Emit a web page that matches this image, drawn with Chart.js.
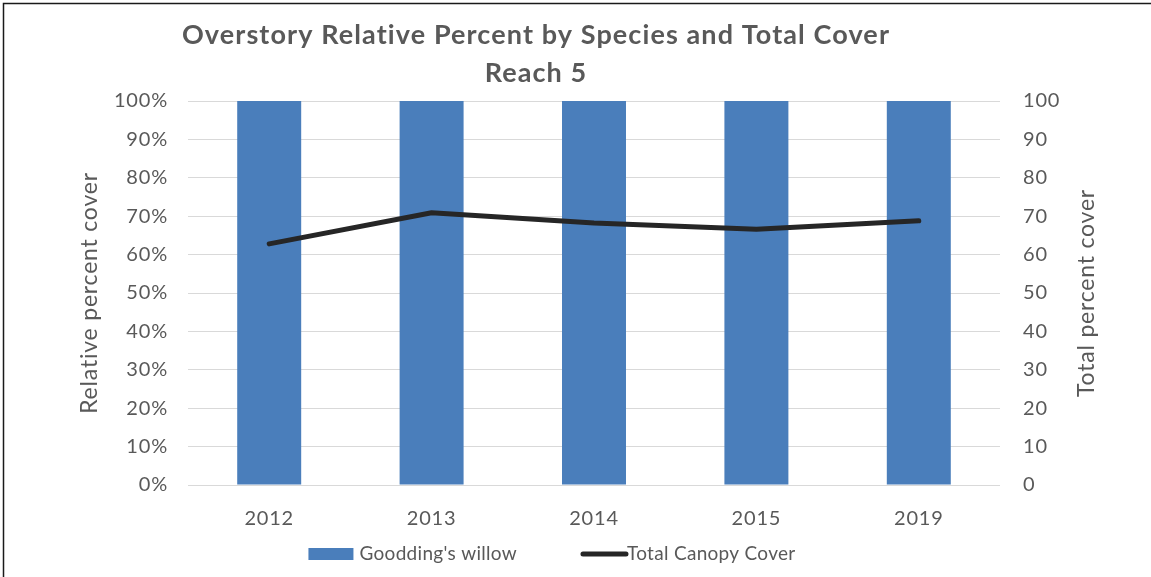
<!DOCTYPE html>
<html>
<head>
<meta charset="utf-8">
<script src="https://cdn.jsdelivr.net/npm/chart.js@4.4.0/dist/chart.umd.min.js"></script>
<style>
html, body { margin: 0; padding: 0; background: #fff; }
#wrap { width: 1151px; height: 577px; }
</style>
</head>
<body>
<div id="wrap"><canvas id="chart" width="1151" height="577"></canvas></div>
<script>
// data
const years = ['2012', '2013', '2014', '2015', '2019'];
const willowShare = [1, 1, 1, 1, 1];            // relative percent (fraction)
const canopyCover = [62.8, 70.9, 68.2, 66.6, 68.8]; // total percent cover
const seriesNames = ["Goodding's willow", 'Total Canopy Cover'];
const titleLines = ['Overstory Relative Percent by Species and Total Cover', 'Reach 5'];
const leftTitle = 'Relative percent cover';
const rightTitle = 'Total percent cover';

const textColor = '#595959';
const barColor = '#4a7ebb';
const lineColor = '#262626';
const fontFam = 'Lato, "Open Sans", sans-serif';

Chart.defaults.font.family = fontFam;
Chart.defaults.color = textColor;

// title, axis titles, legend and frame drawn on the canvas
const decor = {
    id: 'decor',
    beforeDraw(chart) {
        const ctx = chart.ctx;
        ctx.save();
        ctx.fillStyle = '#fff';
        ctx.fillRect(0, 0, chart.width, chart.height);
        ctx.strokeStyle = '#1a1a1a';
        ctx.lineWidth = 1.5;
        ctx.beginPath();
        ctx.moveTo(3.5, chart.height);
        ctx.lineTo(3.5, 3.5);
        ctx.lineTo(chart.width, 3.5);
        ctx.stroke();
        ctx.restore();
        // the original text is set a bit looser than Lato
        ctx.letterSpacing = '0.8px';
    },
    afterDraw(chart) {
        const ctx = chart.ctx;
        const area = chart.chartArea;
        const midY = (area.top + area.bottom) / 2;
        ctx.save();
        ctx.fillStyle = textColor;

        // chart title
        ctx.textAlign = 'center';
        ctx.textBaseline = 'alphabetic';
        ctx.font = 'bold 27px ' + fontFam;
        ctx.letterSpacing = '1.1px';
        titleLines.forEach((t, i) => ctx.fillText(t, 536, 44 + i * 38));

        // axis titles (both read bottom-to-top)
        ctx.font = '23px ' + fontFam;
        ctx.letterSpacing = '0.8px';
        ctx.textBaseline = 'middle';
        [[leftTitle, 90], [rightTitle, 1087]].forEach(([t, x]) => {
            ctx.save();
            ctx.translate(x, midY);
            ctx.rotate(-Math.PI / 2);
            ctx.fillText(t, 0, 0);
            ctx.restore();
        });

        // legend
        ctx.font = '19px ' + fontFam;
        ctx.letterSpacing = '0.3px';
        ctx.textAlign = 'left';
        const ly = 554;
        const boxW = 45;
        const w1 = boxW + 6 + ctx.measureText(seriesNames[0]).width;
        const w2 = boxW + 1 + ctx.measureText(seriesNames[1]).width;
        let x = 552 - (w1 + 64 + w2) / 2;
        ctx.fillStyle = barColor;
        ctx.fillRect(x, ly - 6, boxW, 12);
        ctx.fillStyle = textColor;
        ctx.fillText(seriesNames[0], x + boxW + 6, ly);
        x += w1 + 64;
        ctx.strokeStyle = lineColor;
        ctx.lineWidth = 5;
        ctx.lineCap = 'round';
        ctx.beginPath();
        ctx.moveTo(x + 2, ly);
        ctx.lineTo(x + boxW, ly);
        ctx.stroke();
        ctx.fillText(seriesNames[1], x + boxW + 1, ly);
        ctx.restore();
    }
};

new Chart(document.getElementById('chart'), {
    data: {
        labels: years,
        datasets: [
            {
                type: 'line',
                label: seriesNames[1],
                data: canopyCover,
                yAxisID: 'y1',
                borderColor: lineColor,
                backgroundColor: lineColor,
                borderWidth: 5,
                borderJoinStyle: 'round',
                borderCapStyle: 'round',
                pointRadius: 0,
                tension: 0,
                order: 0
            },
            {
                type: 'bar',
                label: seriesNames[0],
                data: willowShare,
                yAxisID: 'y',
                backgroundColor: barColor,
                borderWidth: 0,
                barPercentage: 0.394,
                categoryPercentage: 1,
                order: 1
            }
        ]
    },
    options: {
        responsive: false,
        animation: false,
        layout: { padding: { top: 101, left: 0, right: 0, bottom: 0 } },
        plugins: {
            legend: { display: false },
            title: { display: false },
            tooltip: { enabled: false }
        },
        scales: {
            x: {
                grid: { display: false },
                border: { display: false },
                ticks: { font: { size: 20 }, color: textColor, padding: 14 },
                afterFit(scale) { scale.height = 92; }
            },
            y: {
                position: 'left',
                min: 0,
                max: 1,
                grid: { color: '#d9d9d9', lineWidth: 1, drawTicks: false },
                border: { display: false },
                ticks: {
                    stepSize: 0.1,
                    padding: 20,
                    font: { size: 20 },
                    color: textColor,
                    callback: v => Math.round(v * 100) + '%'
                },
                afterFit(scale) { scale.width = 188; }
            },
            y1: {
                position: 'right',
                min: 0,
                max: 100,
                grid: { display: false, drawTicks: false },
                border: { display: false },
                ticks: { stepSize: 10, padding: 23, font: { size: 20 }, color: textColor },
                afterFit(scale) { scale.width = 151; }
            }
        }
    },
    plugins: [decor]
});
</script>
</body>
</html>
